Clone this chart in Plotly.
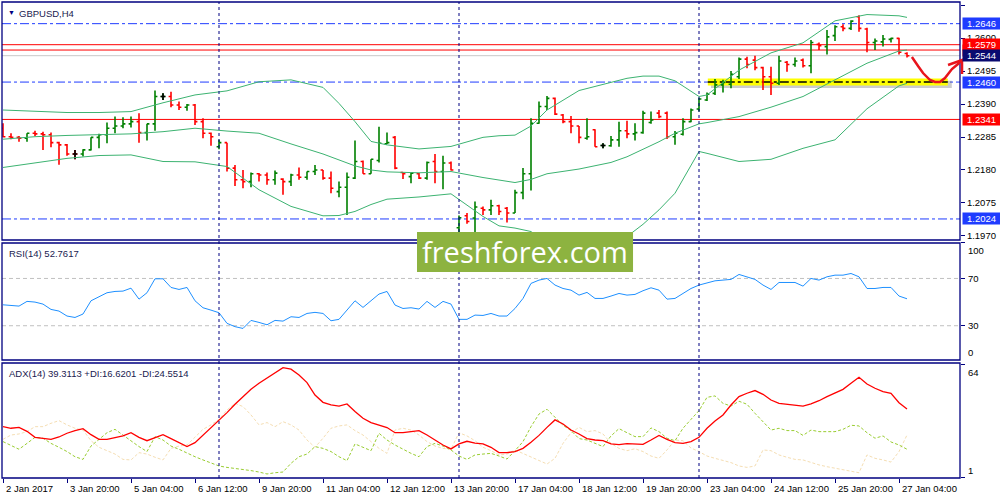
import plotly.graph_objects as go

# GBPUSD H4, 2 Jan - 27 Jan 2017, one entry per bar
opens = [1.2313, 1.2286, 1.2284, 1.2281, 1.2297, 1.2295, 1.2292, 1.2267, 1.2260, 1.2231,
         1.2231, 1.2244, 1.2284, 1.2292, 1.2313, 1.2320, 1.2327, 1.2334, 1.2299, 1.2327,
         1.2414, 1.2414, 1.2387, 1.2380, 1.2387, 1.2334, 1.2297, 1.2254, 1.2267, 1.2186,
         1.2149, 1.2143, 1.2168, 1.2164, 1.2149, 1.2151, 1.2143, 1.2164, 1.2157, 1.2175,
         1.2180, 1.2154, 1.2111, 1.2125, 1.2154, 1.2207, 1.2168, 1.2210, 1.2263, 1.2284,
         1.2172, 1.2159, 1.2168, 1.2154, 1.2207, 1.2175, 1.2202, 1.1996, 1.2034, 1.2027,
         1.2058, 1.2053, 1.2066, 1.2058, 1.2043, 1.2108, 1.2168, 1.2329, 1.2382, 1.2408,
         1.2355, 1.2334, 1.2320, 1.2281, 1.2308, 1.2258, 1.2257, 1.2276, 1.2305, 1.2295,
         1.2299, 1.2331, 1.2361, 1.2361, 1.2286, 1.2294, 1.2334, 1.2374, 1.2403, 1.2424,
         1.2451, 1.2453, 1.2477, 1.2533, 1.2530, 1.2506, 1.2477, 1.2456, 1.2523, 1.2516,
         1.2530, 1.2512, 1.2580, 1.2573, 1.2608, 1.2636, 1.2631, 1.2668, 1.2629, 1.2586,
         1.2588, 1.2596, 1.2599, 1.2551]
highs = [1.2329, 1.2297, 1.2288, 1.2297, 1.2305, 1.2302, 1.2299, 1.2270, 1.2263, 1.2244,
         1.2246, 1.2284, 1.2295, 1.2331, 1.2350, 1.2348, 1.2350, 1.2361, 1.2327, 1.2433,
         1.2424, 1.2429, 1.2398, 1.2390, 1.2390, 1.2345, 1.2299, 1.2276, 1.2267, 1.2196,
         1.2180, 1.2172, 1.2170, 1.2172, 1.2178, 1.2154, 1.2168, 1.2188, 1.2175, 1.2196,
         1.2180, 1.2175, 1.2143, 1.2172, 1.2274, 1.2210, 1.2214, 1.2318, 1.2299, 1.2288,
         1.2172, 1.2172, 1.2170, 1.2207, 1.2231, 1.2225, 1.2207, 1.2035, 1.2043, 1.2080,
         1.2064, 1.2085, 1.2069, 1.2062, 1.2117, 1.2186, 1.2345, 1.2398, 1.2416, 1.2411,
         1.2358, 1.2352, 1.2320, 1.2345, 1.2310, 1.2265, 1.2288, 1.2334, 1.2337, 1.2329,
         1.2369, 1.2366, 1.2371, 1.2366, 1.2304, 1.2345, 1.2376, 1.2410, 1.2427, 1.2470,
         1.2467, 1.2495, 1.2538, 1.2541, 1.2544, 1.2509, 1.2509, 1.2544, 1.2527, 1.2538,
         1.2535, 1.2594, 1.2586, 1.2626, 1.2641, 1.2644, 1.2657, 1.2673, 1.2633, 1.2599,
         1.2610, 1.2601, 1.2601, 1.2555]
lows = [1.2284, 1.2278, 1.2270, 1.2270, 1.2288, 1.2244, 1.2252, 1.2197, 1.2225, 1.2214,
        1.2223, 1.2242, 1.2249, 1.2265, 1.2297, 1.2313, 1.2315, 1.2267, 1.2274, 1.2305,
        1.2403, 1.2380, 1.2371, 1.2369, 1.2323, 1.2281, 1.2257, 1.2246, 1.2175, 1.2129,
        1.2122, 1.2125, 1.2143, 1.2133, 1.2133, 1.2101, 1.2129, 1.2149, 1.2149, 1.2164,
        1.2149, 1.2106, 1.2093, 1.2037, 1.2151, 1.2168, 1.2168, 1.2204, 1.2263, 1.2182,
        1.2151, 1.2138, 1.2151, 1.2149, 1.2138, 1.2119, 1.2178, 1.1975, 1.2009, 1.1979,
        1.2037, 1.2037, 1.2037, 1.2013, 1.2043, 1.2087, 1.2115, 1.2327, 1.2371, 1.2355,
        1.2329, 1.2297, 1.2265, 1.2276, 1.2254, 1.2249, 1.2254, 1.2254, 1.2281, 1.2274,
        1.2295, 1.2327, 1.2345, 1.2279, 1.2260, 1.2290, 1.2332, 1.2366, 1.2400, 1.2419,
        1.2427, 1.2440, 1.2470, 1.2504, 1.2498, 1.2435, 1.2419, 1.2451, 1.2493, 1.2509,
        1.2506, 1.2488, 1.2562, 1.2548, 1.2591, 1.2622, 1.2626, 1.2620, 1.2555, 1.2562,
        1.2573, 1.2586, 1.2548, 1.2538]
closes = [1.2286, 1.2284, 1.2281, 1.2297, 1.2295, 1.2292, 1.2267, 1.2260, 1.2231, 1.2231,
          1.2244, 1.2284, 1.2292, 1.2313, 1.2320, 1.2327, 1.2334, 1.2299, 1.2327, 1.2414,
          1.2414, 1.2387, 1.2380, 1.2387, 1.2334, 1.2297, 1.2286, 1.2267, 1.2186, 1.2149,
          1.2143, 1.2168, 1.2164, 1.2149, 1.2170, 1.2143, 1.2164, 1.2157, 1.2175, 1.2180,
          1.2154, 1.2122, 1.2125, 1.2157, 1.2207, 1.2168, 1.2214, 1.2265, 1.2267, 1.2186,
          1.2168, 1.2170, 1.2154, 1.2204, 1.2175, 1.2202, 1.2180, 1.2028, 1.2016, 1.2062,
          1.2053, 1.2066, 1.2048, 1.2043, 1.2108, 1.2168, 1.2329, 1.2382, 1.2408, 1.2358,
          1.2334, 1.2320, 1.2284, 1.2286, 1.2254, 1.2258, 1.2276, 1.2305, 1.2295, 1.2299,
          1.2361, 1.2339, 1.2350, 1.2286, 1.2297, 1.2334, 1.2371, 1.2406, 1.2421, 1.2451,
          1.2459, 1.2485, 1.2533, 1.2516, 1.2506, 1.2477, 1.2456, 1.2527, 1.2516, 1.2527,
          1.2512, 1.2586, 1.2576, 1.2604, 1.2636, 1.2631, 1.2654, 1.2631, 1.2586, 1.2591,
          1.2597, 1.2599, 1.2555, 1.2544]

# Bollinger bands at these bars
band_x = [0, 4, 8, 12, 16, 20, 24, 28, 32, 36, 40, 42, 44, 46, 48, 52, 56, 60, 62, 64,
          66, 68, 72, 76, 78, 80, 82, 84, 87, 88, 92, 96, 100, 104, 108, 112, 113]
bb_upper = [1.2371, 1.2366, 1.2363, 1.2363, 1.2366, 1.2394, 1.2419, 1.2432, 1.2461, 1.2467,
            1.2443, 1.2392, 1.2334, 1.2271, 1.2260, 1.2247, 1.2255, 1.2284, 1.2289, 1.2291,
            1.2320, 1.2371, 1.2433, 1.2459, 1.2472, 1.2479, 1.2479, 1.2464, 1.2414, 1.2419,
            1.2498, 1.2553, 1.2585, 1.2655, 1.2675, 1.2671, 1.2666]
bb_middle = [1.2278, 1.2286, 1.2290, 1.2292, 1.2295, 1.2302, 1.2313, 1.2304, 1.2297, 1.2263,
             1.2231, 1.2212, 1.2193, 1.2180, 1.2174, 1.2171, 1.2175, 1.2156, 1.2148, 1.2140,
             1.2150, 1.2168, 1.2183, 1.2204, 1.2222, 1.2246, 1.2270, 1.2297, 1.2327, 1.2331,
             1.2350, 1.2380, 1.2414, 1.2467, 1.2520, 1.2559, 1.2562]
bb_lower = [1.2188, 1.2202, 1.2217, 1.2226, 1.2228, 1.2207, 1.2206, 1.2191, 1.2117, 1.2064,
            1.2034, 1.2035, 1.2048, 1.2070, 1.2087, 1.2094, 1.2104, 1.2032, 1.2002, 1.1995,
            1.1984, 1.1940, 1.1925, 1.1945, 1.1968, 1.2007, 1.2053, 1.2106, 1.2239, 1.2233,
            1.2207, 1.2214, 1.2249, 1.2276, 1.2375, 1.2448, 1.2456]

rsi = [47.7, 47.0, 46.6, 50.6, 50.0, 48.3, 43.8, 42.4, 38.2, 37.0,
       39.9, 51.1, 54.5, 57.9, 59.0, 59.3, 61.8, 52.5, 57.9, 69.7,
       69.7, 62.4, 60.7, 62.4, 51.1, 45.2, 43.2, 41.0, 32.0, 29.2,
       27.7, 34.5, 32.8, 30.8, 34.5, 33.9, 37.6, 37.0, 40.4, 41.3,
       40.4, 34.2, 35.4, 43.2, 51.1, 45.5, 51.1, 56.8, 59.0, 47.5,
       44.6, 45.2, 44.1, 50.6, 45.5, 50.6, 48.3, 35.4, 35.4, 39.0,
       38.7, 40.4, 38.2, 38.2, 44.6, 53.1, 65.8, 68.6, 70.0, 64.4,
       61.5, 60.1, 55.9, 58.2, 53.1, 53.1, 55.1, 57.3, 55.9, 56.5,
       59.6, 62.1, 60.1, 52.5, 53.1, 57.3, 61.5, 64.4, 66.3, 68.0,
       68.6, 69.2, 73.4, 71.4, 69.2, 64.4, 60.7, 66.6, 66.3, 66.6,
       63.5, 70.0, 68.6, 71.4, 72.8, 72.8, 74.2, 71.4, 61.5, 61.5,
       62.4, 62.4, 55.1, 52.8]

adx = [29.3, 28.4, 28.9, 26.7, 23.3, 22.6, 22.2, 23.5, 25.6, 27.1,
       28.2, 24.8, 22.2, 22.2, 23.1, 24.1, 25.9, 23.3, 21.4, 23.3,
       24.8, 22.6, 20.3, 18.1, 20.3, 24.6, 28.8, 32.7, 37.2, 41.9,
       46.2, 50.3, 53.7, 56.5, 59.3, 62.5, 61.6, 58.4, 54.1, 47.1,
       43.0, 41.5, 40.9, 42.1, 37.8, 34.0, 31.6, 30.1, 28.8, 25.9,
       25.9, 26.5, 27.1, 24.6, 21.8, 19.0, 16.8, 19.6, 21.1, 20.1,
       19.6, 17.7, 14.7, 14.7, 15.3, 17.1, 20.5, 24.4, 28.9, 33.1,
       30.8, 27.4, 25.2, 22.6, 21.8, 21.4, 19.6, 19.2, 19.8, 19.6,
       19.4, 21.8, 24.4, 22.2, 20.3, 19.9, 20.9, 23.3, 28.4, 32.5,
       35.9, 41.5, 46.2, 48.1, 49.6, 47.5, 44.3, 42.4, 41.9, 41.5,
       40.9, 42.1, 43.9, 46.2, 48.4, 50.3, 53.7, 57.1, 53.3, 50.9,
       49.0, 48.1, 42.8, 39.3]
plus_di = [20.9, 18.8, 16.6, 19.9, 23.3, 22.8, 19.9, 17.7, 15.3, 12.4,
           10.9, 18.4, 22.2, 25.9, 27.8, 24.6, 20.9, 18.1, 15.3, 23.7,
           21.8, 18.4, 16.6, 14.3, 12.4, 10.6, 9.1, 7.2, 6.4, 5.9,
           5.3, 4.6, 3.8, 2.7, 3.4, 3.8, 8.7, 12.4, 13.9, 18.1,
           17.1, 15.3, 12.4, 10.2, 19.6, 17.7, 15.8, 25.6, 21.8, 19.0,
           16.6, 14.3, 12.4, 18.1, 19.9, 18.4, 16.2, 12.8, 10.9, 13.4,
           13.9, 14.3, 12.8, 11.1, 15.8, 20.9, 29.3, 36.4, 39.1, 34.6,
           30.1, 27.1, 22.6, 21.8, 19.9, 18.1, 24.1, 28.2, 25.9, 23.7,
           23.7, 28.6, 26.5, 22.8, 21.4, 28.4, 33.4, 38.3, 45.8, 46.6,
           42.4, 40.9, 43.6, 41.9, 36.8, 32.1, 27.4, 28.4, 27.1, 27.1,
           24.4, 27.4, 26.5, 26.5, 26.5, 27.8, 30.1, 29.7, 25.9, 22.8,
           24.1, 20.7, 19.0, 16.6]
minus_di = [22.2, 24.6, 25.2, 26.5, 29.3, 29.3, 31.2, 32.7, 30.3, 28.4,
            27.4, 21.4, 17.7, 15.8, 13.9, 10.9, 10.6, 14.7, 13.9, 12.1,
            10.6, 17.1, 18.4, 19.0, 23.3, 27.8, 30.3, 33.4, 38.7, 42.4,
            40.6, 35.9, 30.3, 31.6, 29.3, 32.1, 30.3, 27.4, 21.8, 17.7,
            22.8, 28.4, 29.7, 30.3, 27.1, 24.6, 20.9, 17.1, 14.3, 27.4,
            28.4, 27.4, 24.6, 20.9, 18.4, 17.1, 16.6, 25.9, 24.1, 21.4,
            17.7, 15.8, 13.4, 13.9, 16.2, 14.3, 12.1, 10.2, 8.3, 11.5,
            19.9, 25.9, 28.9, 26.5, 27.1, 25.2, 19.9, 17.1, 15.8, 16.9,
            15.3, 12.8, 11.5, 16.2, 21.8, 21.4, 17.3, 15.3, 12.8, 11.5,
            10.2, 9.1, 7.2, 6.4, 7.2, 16.2, 15.8, 13.4, 12.1, 10.9,
            10.6, 9.1, 7.8, 6.8, 5.9, 4.9, 4.2, 3.4, 13.4, 11.5,
            10.6, 9.4, 15.3, 24.6]

date_labels = ["2 Jan 2017", "3 Jan 20:00", "5 Jan 04:00", "6 Jan 12:00", "9 Jan 20:00",
               "11 Jan 04:00", "12 Jan 12:00", "13 Jan 20:00", "17 Jan 04:00", "18 Jan 12:00",
               "19 Jan 20:00", "23 Jan 04:00", "24 Jan 12:00", "25 Jan 20:00", "27 Jan 04:00"]
price_ticks = [1.1970, 1.2075, 1.2180, 1.2285, 1.2390, 1.2495, 1.2600, 1.2705]
blue_levels = [1.2646, 1.2460, 1.2024]
red_levels = [1.2562, 1.2579, 1.2341]
bid_price = 1.2544
week_starts = [27, 57, 87]

NAVY = "#000080"
BLUE = "#1f3cff"
FONT = "Liberation Sans"
bars = list(range(len(closes)))

fig = go.Figure()

fig.add_trace(go.Ohlc(x=bars, open=opens, high=highs, low=lows, close=closes,
                      increasing=dict(line=dict(color="#008000", width=1.6)),
                      decreasing=dict(line=dict(color="#ff0000", width=1.6)),
                      tickwidth=0.3, hoverinfo="skip", yaxis="y"))
doji = [i for i in bars if opens[i] == closes[i]]
fig.add_trace(go.Ohlc(x=doji, open=[opens[i] for i in doji], high=[highs[i] for i in doji],
                      low=[lows[i] for i in doji], close=[closes[i] for i in doji],
                      increasing=dict(line=dict(color="black", width=1.6)),
                      decreasing=dict(line=dict(color="black", width=1.6)),
                      tickwidth=0.3, hoverinfo="skip", yaxis="y"))

for band in (bb_upper, bb_middle, bb_lower):
    fig.add_trace(go.Scatter(x=band_x, y=band, mode="lines", yaxis="y",
                             line=dict(color="#3cb371", width=1), hoverinfo="skip"))

fig.add_trace(go.Scatter(x=bars, y=rsi, mode="lines", yaxis="y2",
                         line=dict(color="#1e90ff", width=1), hoverinfo="skip"))

fig.add_trace(go.Scatter(x=bars, y=minus_di, mode="lines", yaxis="y3",
                         line=dict(color="#f5deb3", width=1, dash="3px,2px"), hoverinfo="skip"))
fig.add_trace(go.Scatter(x=bars, y=plus_di, mode="lines", yaxis="y3",
                         line=dict(color="#9acd32", width=1, dash="3px,2px"), hoverinfo="skip"))
fig.add_trace(go.Scatter(x=bars, y=adx, mode="lines", yaxis="y3",
                         line=dict(color="#ff0000", width=1.3), hoverinfo="skip"))

shapes = []
# panel frames
for y0, y1 in [(0.5, 1.0), (0.2479, 0.4937), (0.0, 0.2416)]:
    shapes.append(dict(type="rect", xref="paper", yref="paper", x0=0, x1=1, y0=y0, y1=y1,
                       line=dict(color=NAVY, width=1.3), layer="above"))
# rsi levels
for lv in (70, 30):
    shapes.append(dict(type="line", xref="paper", yref="y2", x0=0, x1=1, y0=lv, y1=lv,
                       line=dict(color="#c0c0c0", width=1, dash="4px,3px"), layer="below"))
# horizontal levels
shapes.append(dict(type="line", xref="paper", yref="y", x0=0, x1=1, y0=bid_price, y1=bid_price,
                   line=dict(color="#c8c8c8", width=1), layer="below"))
for lv in blue_levels:
    shapes.append(dict(type="line", xref="paper", yref="y", x0=0, x1=1, y0=lv, y1=lv,
                       line=dict(color=BLUE, width=1, dash="dashdot"), layer="below"))
for lv in red_levels:
    shapes.append(dict(type="line", xref="paper", yref="y", x0=0, x1=1, y0=lv, y1=lv,
                       line=dict(color="#ff0000", width=1), layer="below"))
# yellow highlight of the 1.2460 support
shapes.append(dict(type="rect", xref="x", yref="y", x0=88.5, x1=118.6, y0=1.2441, y1=1.2464,
                   fillcolor="rgba(110,110,110,0.35)", line=dict(width=0), layer="below"))
shapes.append(dict(type="rect", xref="x", yref="y", x0=88.1, x1=118.1, y0=1.2449, y1=1.2471,
                   fillcolor="#ffff00", line=dict(width=0), layer="below"))
shapes.append(dict(type="line", xref="x", yref="y", x0=88.1, x1=118.1, y0=1.2460, y1=1.2460,
                   line=dict(color="black", width=1.5, dash="dashdot"), layer="below"))
# week separators
for w in week_starts:
    shapes.append(dict(type="line", xref="x", yref="paper", x0=w, x1=w, y0=0, y1=1,
                       line=dict(color=NAVY, width=1, dash="3px,3px"), layer="above"))
# hand drawn arrow
shapes.append(dict(type="path", xref="paper", yref="paper",
                   path="M 0.9498 0.8845 L 0.9562 0.8655 L 0.9614 0.8508 L 0.9687 0.8361 "
                        "L 0.9739 0.8319 L 0.9791 0.8319 L 0.9843 0.8403 L 0.9916 0.8592 "
                        "L 0.9979 0.8697 L 1.0021 0.8782",
                   line=dict(color="#e8141c", width=2.5), layer="above"))
shapes.append(dict(type="path", xref="paper", yref="paper",
                   path="M 0.9875 0.8676 L 1.0021 0.8782 L 1.0021 0.8487",
                   line=dict(color="#e8141c", width=2.5), layer="above"))
# watermark box
shapes.append(dict(type="rect", xref="paper", yref="paper", x0=0.4332, x1=0.6587,
                   y0=0.4328, y1=0.5168, fillcolor="#8db340", line=dict(width=0), layer="above"))

ann = []
for k, lab in enumerate(date_labels):
    ann.append(dict(x=8 * k, y=0, xref="x", yref="paper", text=lab, showarrow=False,
                    xanchor="left", yanchor="top", xshift=1, yshift=-3,
                    font=dict(family=FONT, size=9.5, color="black")))
ann.append(dict(x=0, y=1, xref="paper", yref="paper", text="▼", showarrow=False,
                xanchor="left", yanchor="top", xshift=4, yshift=-5,
                font=dict(family=FONT, size=7, color=NAVY)))
ann.append(dict(x=0, y=1, xref="paper", yref="paper", text="GBPUSD,H4", showarrow=False,
                xanchor="left", yanchor="top", xshift=15, yshift=-4,
                font=dict(family=FONT, size=9.5, color="#1a1a50")))
ann.append(dict(x=0, y=0.4937, xref="paper", yref="paper", text="RSI(14) 52.7617", showarrow=False,
                xanchor="left", yanchor="top", xshift=5, yshift=-3,
                font=dict(family=FONT, size=9.5, color="#1a1a50")))
ann.append(dict(x=0, y=0.2416, xref="paper", yref="paper",
                text="ADX(14) 39.3113 +DI:16.6201 -DI:24.5514", showarrow=False,
                xanchor="left", yanchor="top", xshift=5, yshift=-3,
                font=dict(family=FONT, size=9.5, color="#1a1a50")))
# right scale labels of the indicator windows
for txt, val, anc, ax in [("100", 100, "top", "y2"), ("70", 70, "middle", "y2"),
                          ("30", 30, "middle", "y2"), ("0", 1, "bottom", "y2"),
                          ("64", 64, "top", "y3"), ("1", 0.5, "bottom", "y3")]:
    ann.append(dict(x=1, y=val, xref="paper", yref=ax, text=txt, showarrow=False,
                    xanchor="left", yanchor=anc, xshift=6,
                    font=dict(family=FONT, size=9.5, color="black")))
# coloured price boxes
for txt, val, col in [("1.2646", 1.2646, BLUE), ("1.2562", 1.2562, "#ff0000"),
                      ("1.2579", 1.2579, "#ff0000"), ("1.2544", 1.2544, "#0a0a70"),
                      ("1.2460", 1.2460, BLUE), ("1.2341", 1.2341, "#ff0000"),
                      ("1.2024", 1.2024, BLUE)]:
    ann.append(dict(x=1, y=val, xref="paper", yref="y", text=txt, showarrow=False,
                    xanchor="left", yanchor="middle", xshift=2, width=35, height=9,
                    bgcolor=col, borderpad=1,
                    font=dict(family=FONT, size=9.5, color="white")))
ann.append(dict(x=0.546, y=0.4748, xref="paper", yref="paper", text="freshforex.com",
                showarrow=False, font=dict(family="Open Sans", size=29, color="white")))

fig.update_layout(
    width=1000, height=500,
    margin=dict(l=2, r=40, t=2, b=22),
    paper_bgcolor="white", plot_bgcolor="white",
    showlegend=False,
    xaxis=dict(domain=[0, 1], range=[-0.125, 119.625], anchor="y3",
               rangeslider=dict(visible=False), showgrid=False, zeroline=False,
               showticklabels=False, ticks="outside", ticklen=4, tickcolor=NAVY,
               tickvals=[8 * k for k in range(len(date_labels))]),
    yaxis=dict(domain=[0.5, 1.0], range=[1.1957, 1.2715], side="right", anchor="x",
               tickvals=price_ticks, tickformat=".4f", ticks="outside", ticklen=4,
               tickcolor=NAVY, showgrid=False, zeroline=False,
               tickfont=dict(family=FONT, size=9.5, color="black")),
    yaxis2=dict(domain=[0.2479, 0.4937], range=[1, 100], side="right", anchor="x",
                tickvals=[100, 70, 30], showticklabels=False, ticks="outside", ticklen=4,
                tickcolor=NAVY, showgrid=False, zeroline=False),
    yaxis3=dict(domain=[0, 0.2416], range=[0.44, 65.1], side="right", anchor="x",
                tickvals=[64, 1], showticklabels=False, ticks="outside", ticklen=4,
                tickcolor=NAVY, showgrid=False, zeroline=False),
    shapes=shapes,
    annotations=ann,
)

fig.write_html("out.html", config=dict(displayModeBar=False),
               post_script="document.body.style.margin='0';document.body.style.overflow='hidden';")
